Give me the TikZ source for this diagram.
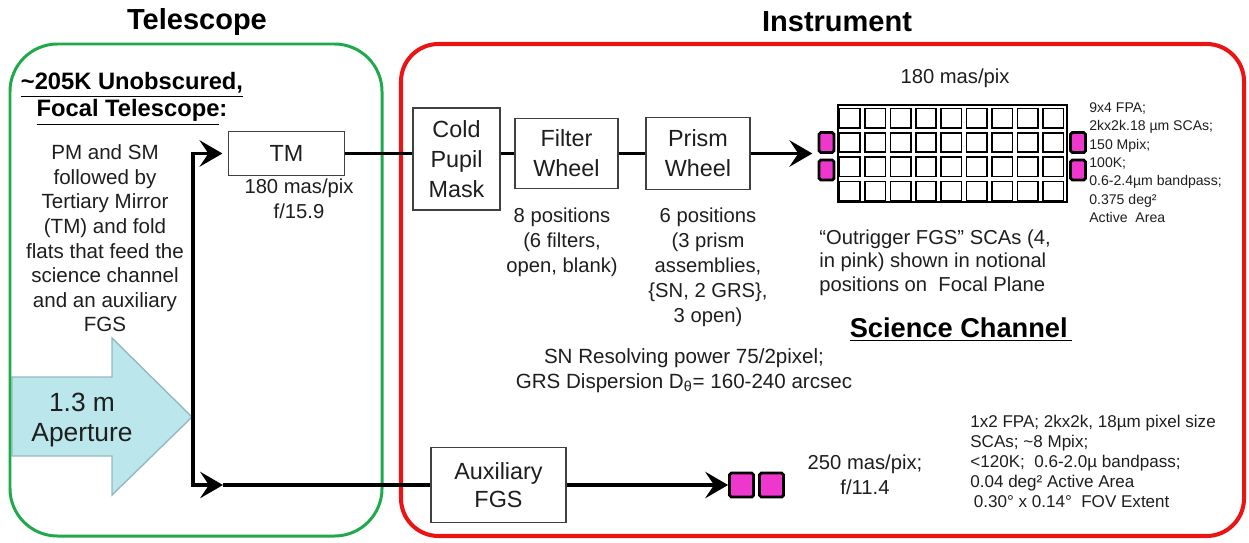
\documentclass[tikz,border=0pt]{standalone}
\usepackage{fontspec}
\setmainfont{Liberation Sans}
\usepackage{tikz}
\usetikzlibrary{arrows.meta,positioning,calc}
\definecolor{telgreen}{RGB}{30,170,75}
\definecolor{instred}{RGB}{235,20,20}
\definecolor{fgspink}{RGB}{238,55,205}
\definecolor{aperfill}{RGB}{186,230,236}
\definecolor{aperdraw}{RGB}{150,185,190}
\definecolor{textgray}{RGB}{30,30,30}

\begin{document}
\begin{tikzpicture}[
      stage/.style={rectangle, draw=black!75, line width=0.9pt, fill=white,
                    align=center, inner sep=0pt, text=textgray,
                    font=\fontsize{13.3}{17}\selectfont},
      note/.style={align=center, inner sep=0pt, text=textgray,
                   font=\fontsize{11.5}{14.2}\selectfont},
      spec/.style={align=left, inner sep=0pt, text=textgray, anchor=north west},
      heading/.style={inner sep=0pt, font=\fontsize{16.5}{19}\selectfont\bfseries},
      flow/.style={line width=2.2pt, draw=black},
      headed/.style={-{Stealth[length=13pt, width=15pt, inset=5pt]}},
      scapink/.style={rectangle, draw=black, line width=1.6pt, fill=fgspink,
                      rounded corners=1pt, inner sep=0pt},
      cell/.style={draw=black, line width=0.9pt, fill=white}
    ]
      \useasboundingbox (0,0) rectangle (24.98,10.84);

      %% aperture arrow, under the green outline
      \draw[fill=aperfill, draw=aperdraw, line width=0.8pt]
          (0.24,3.30) -- (2.24,3.30) -- (2.24,4.08) -- (3.84,2.50)
          -- (2.24,0.94) -- (2.24,1.72) -- (0.24,1.72) -- cycle;
      \node[note, font=\fontsize{15}{17.6}\selectfont] (aperture)
          at (1.64,2.44) {1.3 m\\Aperture};

      %% group outlines and titles
      \draw[telgreen, line width=1.7pt, rounded corners=0.95cm]
          (0.20,0.12) rectangle (7.64,9.96);
      \draw[instred, line width=2.3pt, rounded corners=0.75cm]
          (8.02,0.12) rectangle (24.88,9.96);
      \node[heading] (teltitle) at (3.94,10.40) {Telescope};
      \node[heading] (insttitle) at (16.74,10.40) {Instrument};

      %% telescope side
      \node[heading, align=center, font=\fontsize{13.5}{15.4}\selectfont\bfseries]
          (telhead) at (2.64,8.86)
          {\underline{\textasciitilde205K Unobscured,}\\\underline{Focal Telescope}:};
      \node[note, font=\fontsize{11.7}{14}\selectfont] (teldesc) at (2.10,6.07)
          {PM and SM\\followed by\\Tertiary Mirror\\(TM) and fold\\flats that feed the\\
           science channel\\and an auxiliary\\FGS};
      \node[stage, minimum width=2.32cm, minimum height=0.88cm] (tm)
          at (5.73,7.77) {TM};
      \node[note] (tmnote) at (5.98,6.86) {180 mas/pix\\f/15.9};

      %% science channel
      \node[stage, minimum width=1.74cm, minimum height=2.04cm] (cold)
          at (9.13,7.66) {Cold\\Pupil\\Mask};
      \node[stage, minimum width=2.06cm, minimum height=1.40cm] (filter)
          at (11.33,7.77) {Filter\\Wheel};
      \node[stage, minimum width=2.08cm, minimum height=1.44cm] (prism)
          at (13.96,7.77) {Prism\\Wheel};
      \node[note] (filternote) at (11.24,6.00) {8 positions\\(6 filters,\\open, blank)};
      \node[note] (prismnote) at (14.16,5.50)
          {6 positions\\(3 prism\\assemblies,\\\{SN, 2 GRS\},\\3 open)};
      \node[note, font=\fontsize{11.7}{14.2}\selectfont] (sndisp) at (13.68,3.42)
          {SN Resolving power 75/2pixel;\\GRS Dispersion D\textsubscript{θ}= 160-240 arcsec};

      %% focal plane array
      \node[draw=black, line width=1.2pt, fill=white, minimum width=4.58cm,
            minimum height=1.94cm, inner sep=0pt] (fpa) at (19.05,7.77) {};
      \foreach \c in {0,...,8}
        \foreach \r in {0,...,3}
          \draw[cell] ($(fpa.south west)+(\c*0.5089+0.05,\r*0.485+0.05)$)
              rectangle ++(0.409,0.385);
      \node[scapink, minimum width=0.30cm, minimum height=0.40cm] (ogl1) at (16.53,7.99) {};
      \node[scapink, minimum width=0.30cm, minimum height=0.40cm] (ogl2) at (16.53,7.44) {};
      \node[scapink, minimum width=0.30cm, minimum height=0.40cm] (ogr1) at (21.56,7.99) {};
      \node[scapink, minimum width=0.30cm, minimum height=0.40cm] (ogr2) at (21.56,7.44) {};
      \node[note] (fpascale) at (19.10,9.28) {180 mas/pix};
      \node[spec, font=\fontsize{8}{10.5}\selectfont] (fpaspec) at (21.78,8.80)
          {9x4 FPA;\\2kx2k.18 µm SCAs;\\150 Mpix;\\100K;\\0.6-2.4µm bandpass;\\
           0.375 deg²\\Active\ \ Area};
      \node[spec, font=\fontsize{11.5}{13.6}\selectfont] (ognote) at (16.38,6.26)
          {“Outrigger FGS” SCAs (4,\\in pink) shown in notional\\positions on\ \ Focal Plane};
      \node[heading, font=\fontsize{15.5}{18}\selectfont\bfseries] (scihead)
          at (19.22,4.24) {\underline{Science Channel\,}};

      %% auxiliary FGS
      \node[stage, minimum width=2.70cm, minimum height=1.50cm,
            font=\fontsize{13.3}{16}\selectfont] (aux) at (9.97,1.14) {Auxiliary\\FGS};
      \node[scapink, minimum size=0.48cm] (afgs1) at (14.83,1.14) {};
      \node[scapink, minimum size=0.48cm] (afgs2) at (15.43,1.14) {};
      \node[note] (auxscale) at (17.30,1.34) {250 mas/pix;\\f/11.4};
      \node[spec, font=\fontsize{9.7}{11.4}\selectfont] (auxspec) at (19.40,2.54)
          {1x2 FPA; 2kx2k, 18µm pixel size\\SCAs; \textasciitilde8 Mpix;\\
           <120K;\ \ 0.6-2.0µ bandpass;\\0.04 deg² Active Area\\
           \hspace*{2pt}0.30° x 0.14°\ \ FOV Extent};

      %% light path
      \coordinate (split) at (3.86,2.50);
      \coordinate (fork) at (4.46,1.14);
      \draw[flow, headed, shorten >=3pt] (split) |- (tm.west);
      \draw[flow, headed] (split) |- (fork);
      \draw[flow] (fork) -- (aux.west);
      \draw[flow] (tm.east) -- (tm.east -| cold.west);
      \draw[flow] (cold.east |- tm.east) -- (filter.west);
      \draw[flow] (filter.east) -- (prism.west);
      \draw[flow, headed, shorten >=3pt] (prism.east) -- (prism.east -| ogl1.west);
      \draw[flow, headed] (aux.east) -- (afgs1.west);
    \end{tikzpicture}
\end{document}
